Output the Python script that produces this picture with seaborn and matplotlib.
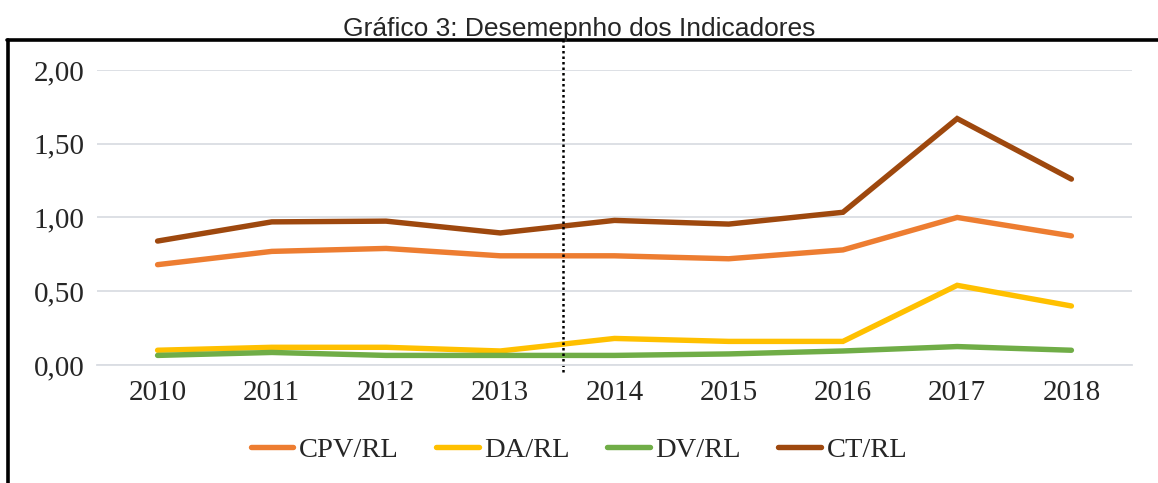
import matplotlib
matplotlib.use("Agg")
import matplotlib.pyplot as plt
from matplotlib.lines import Line2D
import seaborn as sns
import pandas as pd

# dados
anos = [2010, 2011, 2012, 2013, 2014, 2015, 2016, 2017, 2018]
cpv_rl = [0.68, 0.77, 0.79, 0.74, 0.74, 0.72, 0.78, 1.00, 0.875]
da_rl = [0.10, 0.12, 0.12, 0.095, 0.18, 0.16, 0.16, 0.54, 0.40]
dv_rl = [0.065, 0.085, 0.065, 0.065, 0.065, 0.075, 0.095, 0.125, 0.10]
ct_rl = [0.84, 0.97, 0.975, 0.895, 0.98, 0.955, 1.035, 1.67, 1.26]

series = ["CPV/RL", "DA/RL", "DV/RL", "CT/RL"]
cores = ["#ED7D31", "#FFC000", "#70AD47", "#9E480E"]

df = pd.DataFrame({
    "ano": anos * 4,
    "valor": cpv_rl + da_rl + dv_rl + ct_rl,
    "serie": [s for s in series for _ in anos],
})

sns.set_style("white")
plt.rcParams["font.family"] = ["Liberation Serif", "DejaVu Serif"]

fig = plt.figure(figsize=(11.58, 4.83), dpi=100)
ax = fig.add_axes([0.0838, 0.2443, 0.8937, 0.6110])

sns.lineplot(
    data=df, x="ano", y="valor", hue="serie", hue_order=series,
    palette=cores, linewidth=3.9, ax=ax, legend=False,
    solid_capstyle="round", solid_joinstyle="miter",
)

ax.set_xlim(2009.47, 2018.53)
ax.set_ylim(0, 2.0)
ax.set_yticks([0, 0.5, 1.0, 1.5, 2.0])
ax.set_yticklabels(["0,00", "0,50", "1,00", "1,50", "2,00"], fontsize=21)
ax.set_xticks(anos)
ax.set_xticklabels([str(a) for a in anos], fontsize=21)
ax.set_xticks([a - 0.5 for a in anos] + [2018.5], minor=True)
ax.tick_params(axis="x", which="major", length=0, pad=11)
ax.tick_params(axis="x", which="minor", length=5, color="#DADDE3", width=1.3)
ax.tick_params(axis="y", length=0, pad=9)
ax.grid(axis="y", color="#DADDE3", linewidth=1.3)
ax.set_axisbelow(True)
for lado in ["left", "right", "top"]:
    ax.spines[lado].set_visible(False)
ax.spines["bottom"].set_color("#DADDE3")
ax.spines["bottom"].set_linewidth(1.3)
ax.set_xlabel("")
ax.set_ylabel("")

# linha pontilhada de separação
ax.plot([2013.55, 2013.55], [-0.05, 2.21], color="black", linestyle=(0, (1, 1.2)),
        linewidth=1.8, clip_on=False)

handles = [Line2D([0], [0], color=c, linewidth=3.9, solid_capstyle="round") for c in cores]
fig.legend(handles, series, loc="center", bbox_to_anchor=(0.5, 0.068), ncol=4,
           frameon=False, fontsize=20.5, handlelength=1.5, handletextpad=0.2,
           columnspacing=1.3)

# moldura
fig.add_artist(Line2D([0.006, 1.0], [0.918, 0.918], color="black", linewidth=2.6,
                      transform=fig.transFigure))
fig.add_artist(Line2D([0.0065, 0.0065], [0.0, 0.918], color="black", linewidth=2.6,
                      transform=fig.transFigure))

fig.text(0.5, 0.94, "Gráfico 3: Desemepnho dos Indicadores", ha="center", va="center",
         fontsize=19, family=["Liberation Sans", "DejaVu Sans"])

fig.savefig("out.png", dpi=100)
